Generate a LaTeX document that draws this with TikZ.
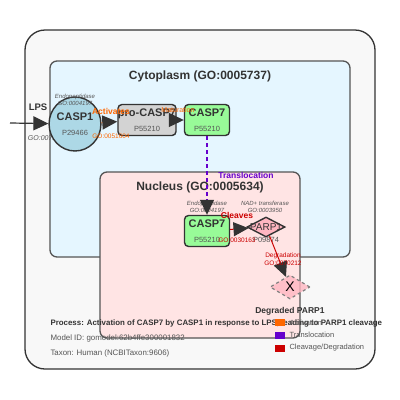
\documentclass[tikz,border=0pt]{standalone}
\usepackage{fontspec}
\setmainfont{Liberation Sans}
\usetikzlibrary{arrows.meta,positioning,shapes.geometric}
\definecolor{actorange}{HTML}{FF6600}
\definecolor{transpurple}{HTML}{6600CC}
\definecolor{cleavred}{HTML}{CC0000}
\definecolor{inkgray}{HTML}{333333}
\definecolor{notegray}{HTML}{555555}
\definecolor{cellfill}{HTML}{F8F8F8}
\definecolor{cytofill}{HTML}{E5F6FF}
\definecolor{nucfill}{HTML}{FFE4E4}
\definecolor{casponeblue}{HTML}{ADD8E6}
\definecolor{proggray}{HTML}{D3D3D3}
\definecolor{activegreen}{HTML}{98FB98}
\definecolor{parppink}{HTML}{FFB6C1}
\newcommand{\genename}[1]{{\fontsize{11}{12}\selectfont\bfseries #1}}
\newcommand{\accno}[1]{{\fontsize{7.5}{8}\selectfont\color{notegray}#1}}

\begin{document}
\begin{tikzpicture}[x=1pt, y=-1pt,
  >={Triangle[length=15pt, width=14pt, color=inkgray]},
  comp/.style={draw=notegray, line width=1.3pt, rounded corners=7pt},
  title/.style={font=\fontsize{12}{14}\selectfont\bfseries, text=inkgray},
  prot/.style={draw=inkgray, line width=1.4pt, text=inkgray, align=center, inner sep=0pt},
  acc/.style={font=\fontsize{7.5}{8}\selectfont, text=notegray},
  note/.style={font=\fontsize{6}{7}\selectfont\itshape, text=notegray, align=center},
  edgelbl/.style={font=\fontsize{8.5}{10}\selectfont\bfseries},
  golbl/.style={font=\fontsize{6.5}{7}\selectfont},
  legtxt/.style={font=\fontsize{7.5}{9}\selectfont, text=notegray, anchor=west},
  info/.style={font=\fontsize{7.9}{10}\selectfont, text=notegray, anchor=west}]
\useasboundingbox (0,0) rectangle (400,400);
% compartments
\draw[comp, fill=cellfill, draw=inkgray, rounded corners=20pt] (25,30) rectangle (375,369);
\draw[comp, fill=cytofill] (50,61) rectangle (350,257);
\node[title] (cytotitle) at (200,76) {Cytoplasm (GO:0005737)};
\draw[comp, fill=nucfill] (100,172) rectangle (300,338);
\node[title] (nuctitle) at (200,187) {Nucleus (GO:0005634)};
% LPS input
\coordinate (lpsin) at (10,123);
\node[edgelbl, text=inkgray, font=\fontsize{9.5}{11}\selectfont\bfseries] (lps) at (38,107) {LPS};
\node[note, font=\fontsize{7}{8}\selectfont\itshape] (lpsgo) at (48,138) {GO:0071222};
% proteins
\node[prot, ellipse, fill=casponeblue, minimum width=44pt, minimum height=54pt] (casp1) at (75,124)
  {\genename{CASP1}\\[3pt]\accno{P29466}};
\node[prot, rounded corners=4pt, fill=proggray, minimum width=45pt, minimum height=31pt] (procasp7) at (147,120)
  {\genename{pro-CASP7}\\[3pt]\accno{P55210}};
\node[prot, rounded corners=4pt, fill=activegreen, minimum width=45pt, minimum height=31pt] (casp7c) at (207,120)
  {\genename{CASP7}\\[3pt]\accno{P55210}};
\node[prot, rounded corners=4pt, fill=activegreen, minimum width=45pt, minimum height=31pt] (casp7n) at (207,231)
  {\genename{CASP7}\\[3pt]\accno{P55210}};
\node[prot, diamond, fill=parppink, minimum width=38pt, minimum height=20pt,
  label={[font=\fontsize{10}{12}\selectfont, text=inkgray]center:PARP1}] (parp1) at (266,227) {};
\node[diamond, draw=gray, dashed, line width=1.2pt, fill=parppink, fill opacity=0.8, text opacity=1,
  minimum width=40pt, minimum height=24pt, inner sep=0pt, font=\fontsize{14}{14}\selectfont] (degparp) at (290,287) {X};
\node[acc, font=\fontsize{8.5}{10}\selectfont\bfseries, text=inkgray] (deglbl) at (290,311) {Degraded PARP1};
\node[acc] (parpacc) at (266,240) {P09874};
% function notes
\node[note] (casp1fn) at (75,100) {Endopeptidase\\GO:0004197};
\node[note] (casp7fn) at (207,207) {Endopeptidase\\GO:0004197};
\node[note] (parpfn) at (265,207) {NAD+ transferase\\GO:0003950};
% reactions
\draw[->, inkgray, line width=1.2pt] (lpsin) -- (casp1);
\draw[->, actorange, line width=1.5pt] (casp1) -- (procasp7);
\node[edgelbl, text=actorange] (actlbl) at (111,111) {Activates};
\node[golbl, text=actorange] (actgo) at (111,136) {GO:0051604};
\draw[->, actorange, line width=1pt] (procasp7) -- (casp7c);
\node[golbl, font=\fontsize{7}{8}\selectfont, text=actorange] (matlbl) at (178,110) {Maturation};
\draw[->, transpurple, line width=1.3pt, dash pattern=on 4pt off 3pt] (casp7c) -- (casp7n);
\node[edgelbl, text=transpurple] (translbl) at (246,175) {Translocation};
\draw[->, cleavred, line width=1pt] (casp7n) -- (parp1);
\node[edgelbl, text=cleavred] (cleavlbl) at (237,215) {Cleaves};
\node[golbl, text=cleavred] (cleavgo) at (237,240) {GO:0030163};
\draw[->, cleavred, line width=1pt] (parp1) -- (degparp);
\node[golbl, text=cleavred, align=center, font=\fontsize{6.5}{7.5}\selectfont] (deggo) at (283,259) {Degradation\\GO:0070212};
% model info
\node[info, font=\fontsize{7.9}{10}\selectfont\bfseries, text=inkgray] (process) at (47,323)
  {Process: Activation of CASP7 by CASP1 in response to LPS, leading to PARP1 cleavage};
\node[info] (modelid) at (47,338) {Model ID: gomodel:62b4ffe300001832};
\node[info] (taxon) at (47,353) {Taxon: Human (NCBITaxon:9606)};
% legend
\fill[actorange] (275,319) rectangle (285,326);
\node[legtxt] (legact) at (286,323) {Activation};
\fill[transpurple] (275,332) rectangle (285,339);
\node[legtxt] (legtrans) at (286,335) {Translocation};
\fill[cleavred] (275,345) rectangle (285,352);
\node[legtxt] (legcleav) at (286,348) {Cleavage/Degradation};
\end{tikzpicture}
\end{document}
